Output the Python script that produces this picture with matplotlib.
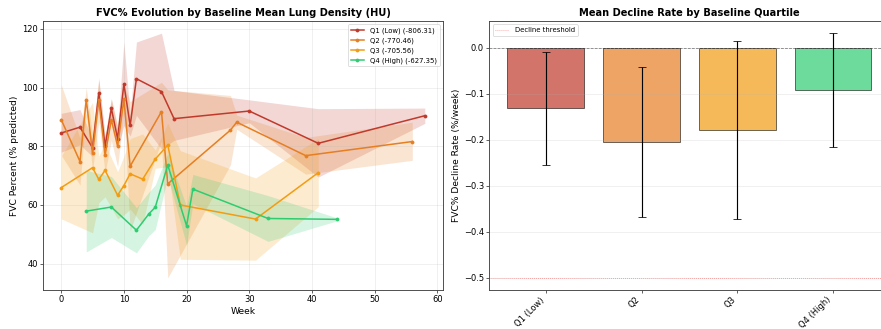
import matplotlib
matplotlib.use("Agg")
import matplotlib.pyplot as plt
import numpy as np

# ---- FVC% trajectories per baseline lung-density quartile ----
q1_weeks = [0, 3, 5, 6, 7, 8, 9, 10, 11, 12, 16, 18, 30, 41, 58]
q1_mean = [84.5, 86.5, 79.5, 98.1, 80.0, 92.9, 82.6, 101.2, 87.1, 103.0, 98.6, 89.4, 92.0, 81.0, 90.4]
q1_low = [78.0, 80.5, 76.5, 93.5, 76.5, 89.5, 79.0, 87.0, 83.5, 90.5, 79.0, 82.0, 88.0, 69.5, 87.8]
q1_high = [91.2, 92.5, 82.5, 102.7, 83.5, 96.3, 86.2, 115.5, 90.7, 115.5, 118.5, 99.0, 95.8, 92.8, 93.0]

q2_weeks = [0, 3, 4, 5, 6, 7, 8, 9, 10, 11, 16, 17, 27, 28, 39, 56]
q2_mean = [89.1, 74.8, 95.9, 77.7, 95.9, 77.0, 89.0, 80.0, 96.0, 73.2, 91.8, 67.2, 85.5, 88.2, 76.8, 81.6]
q2_low = [77.0, 66.8, 92.0, 71.7, 88.5, 71.0, 82.0, 73.0, 91.0, 51.2, 81.8, 35.2, 73.7, 85.8, 70.5, 75.2]
q2_high = [101.0, 82.8, 100.0, 83.7, 103.3, 83.0, 96.0, 87.0, 101.0, 95.2, 101.8, 99.2, 97.3, 90.6, 83.0, 88.2]

q3_weeks = [0, 5, 6, 7, 9, 10, 11, 13, 15, 17, 19, 31, 41]
q3_mean = [65.9, 72.7, 68.7, 71.8, 63.3, 66.6, 70.6, 68.8, 75.6, 80.4, 60.0, 55.2, 71.0]
q3_low = [55.3, 50.5, 60.7, 62.8, 55.3, 56.6, 58.6, 53.4, 72.5, 73.0, 41.5, 41.2, 59.4]
q3_high = [76.5, 94.9, 76.7, 80.8, 71.3, 76.6, 82.6, 84.2, 78.7, 87.8, 78.5, 69.2, 82.6]

q4_weeks = [4, 8, 12, 14, 15, 17, 20, 21, 33, 44]
q4_mean = [57.9, 59.3, 51.4, 57.0, 59.2, 73.6, 52.9, 65.4, 55.4, 55.1]
q4_low = [44.0, 48.9, 43.7, 49.6, 51.6, 69.6, 46.3, 60.4, 47.6, 54.6]
q4_high = [71.8, 69.7, 59.1, 64.4, 66.8, 77.6, 59.5, 70.4, 63.2, 55.6]

series_labels = ["Q1 (Low) (-806.31)", "Q2 (-770.46)", "Q3 (-705.56)", "Q4 (High) (-627.35)"]
colors = ["#c0392b", "#e67e22", "#f39c12", "#2ecc71"]

# ---- mean weekly decline rate per quartile ----
bar_labels = ["Q1 (Low)", "Q2", "Q3", "Q4 (High)"]
decline_rate = [-0.131, -0.205, -0.179, -0.092]
decline_err = [0.123, 0.163, 0.194, 0.124]
threshold = -0.5

W, H, DPI = 881, 329, 55
fig = plt.figure(figsize=(W / DPI, H / DPI), dpi=DPI)
fig.patch.set_facecolor("white")

ax1 = fig.add_axes([43 / W, 39 / H, 400 / W, 269 / H])
ax2 = fig.add_axes([489.3 / W, 39 / H, 400.3 / W, 269 / H])

groups = [
    (q1_weeks, q1_mean, q1_low, q1_high),
    (q2_weeks, q2_mean, q2_low, q2_high),
    (q3_weeks, q3_mean, q3_low, q3_high),
    (q4_weeks, q4_mean, q4_low, q4_high),
]
for (wk, mu, lo, hi), lab, col in zip(groups, series_labels, colors):
    ax1.plot(wk, mu, marker="o", markersize=4, linewidth=2, color=col, label=lab)
    ax1.fill_between(wk, lo, hi, color=col, alpha=0.2, linewidth=0)

ax1.set_title("FVC% Evolution by Baseline Mean Lung Density (HU)", fontsize=13, fontweight="bold")
ax1.set_xlabel("Week", fontsize=12)
ax1.set_ylabel("FVC Percent (% predicted)", fontsize=12)
ax1.set_yticks([40, 60, 80, 100, 120])
ax1.grid(True, alpha=0.3)
ax1.legend(loc="upper right", fontsize=9)
ax1.tick_params(labelsize=11)

x = np.arange(len(bar_labels))
ax2.bar(x, decline_rate, width=0.8, yerr=decline_err, capsize=5, color=colors,
        alpha=0.7, edgecolor="black", linewidth=1)
ax2.axhline(0, color="black", linestyle="--", linewidth=1, alpha=0.5)
ax2.axhline(threshold, color="red", linestyle=":", linewidth=1, alpha=0.5, label="Decline threshold")
ax2.set_xticks(x)
ax2.set_xticklabels(bar_labels, rotation=45, ha="right")
ax2.set_title("Mean Decline Rate by Baseline Quartile", fontsize=13, fontweight="bold")
ax2.set_ylabel("FVC% Decline Rate (%/week)", fontsize=12)
ax2.grid(True, axis="y", alpha=0.3)
ax2.legend(loc="upper left", fontsize=9)
ax2.tick_params(labelsize=11)

for ax in (ax1, ax2):
    for s in ax.spines.values():
        s.set_color("#444444")
        s.set_linewidth(1.2)

fig.savefig("out.png", dpi=DPI)
